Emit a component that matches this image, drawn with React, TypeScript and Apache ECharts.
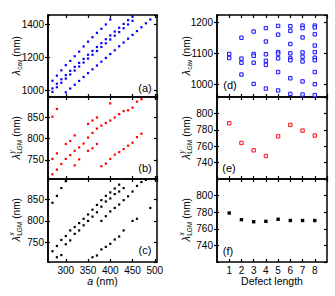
import React, { useEffect, useRef } from 'react';
import * as echarts from 'echarts';

// ---------- data ----------
// (a) cavity wavelength vs lattice constant a
const aX1 = [270, 280, 290, 300, 310, 320, 330, 340, 350, 360, 370, 380, 390, 400];
const aY1 = [1058, 1089, 1121, 1152, 1178, 1206, 1234, 1265, 1294, 1321, 1347, 1372, 1398, 1428];
const aX2 = [270, 280, 290, 300, 310, 320, 330, 340, 350, 360, 370, 380, 390, 400, 410, 420, 430, 440, 450];
const aY2 = [1012, 1040, 1067, 1092, 1118, 1142, 1166, 1190, 1215, 1238, 1262, 1285, 1309, 1332, 1355, 1378, 1401, 1424, 1446];
const aX3 = [270, 280, 290, 300, 310, 320, 330, 340, 350, 360, 370, 380, 390, 400, 410, 420, 430, 440, 450];
const aY3 = [991, 1019, 1046, 1071, 1096, 1120, 1144, 1168, 1192, 1215, 1238, 1262, 1284, 1307, 1330, 1352, 1375, 1398, 1420];
const aX4 = [300, 310, 320, 330, 340, 350, 360, 370, 380, 390, 400, 410, 420, 430, 440, 450, 460, 470, 480, 490];
const aY4 = [988, 1011, 1034, 1057, 1081, 1104, 1127, 1150, 1173, 1196, 1219, 1242, 1266, 1289, 1312, 1335, 1358, 1381, 1405, 1428];

// (b) lambda^y_LGM vs a
const bX1 = [270, 280];
const bY1 = [851, 869];
const bX2 = [270, 280, 300, 310, 320, 350, 360, 370, 400];
const bY2 = [752, 765, 787, 794, 807, 834, 842, 849, 882];
const bX3 = [270, 280, 290, 300, 310, 320, 330, 340, 350, 360, 370, 380, 390, 400, 410, 420, 430, 440, 450, 460, 470];
const bY3 = [716, 727, 740, 752, 761, 771, 779, 788, 802, 813, 823, 830, 836, 842, 849, 857, 864, 866, 872, 886, 892];
const bX4 = [320, 330, 350, 360, 370];
const bY4 = [737, 751, 771, 777, 787];
const bX5 = [380, 390, 400, 410, 420, 430, 440, 450, 460, 470];
const bY5 = [735, 741, 752, 762, 768, 775, 783, 790, 803, 811];

// (c) lambda^x_LGM vs a
const cX1 = [270, 280, 290, 300];
const cY1 = [842, 858, 876, 892];
const cX2 = [270, 280, 290, 300, 310, 320, 330, 340, 350, 360, 370, 380, 390, 400, 410, 420];
const cY2 = [730, 742, 756, 765, 778, 786, 795, 805, 815, 826, 837, 848, 858, 866, 875, 884];
const cX3 = [280, 290];
const cY3 = [716, 721];
const cX4 = [300, 310, 320, 330, 340, 350, 360, 370, 380, 390, 400, 410, 420, 430];
const cY4 = [746, 755, 770, 778, 790, 800, 810, 820, 833, 845, 852, 862, 868, 876];
const cX5 = [380, 390, 400, 410, 420, 430, 440, 450, 460, 470, 480];
const cY5 = [800, 811, 822, 830, 838, 848, 857, 868, 881, 890, 895];
const cX6 = [360, 370, 380, 390, 400, 410, 420, 430, 450, 460];
const cY6 = [716, 720, 734, 740, 747, 757, 764, 778, 800, 805];
const cX7 = [490];
const cY7 = [830];

// (d)-(f) vs defect length
const defectLengths = [1, 2, 3, 4, 5, 6, 7, 8];
const dCav = [
  [1098, 1085],
  [1150, 1083, 1070, 1032],
  [1170, 1098, 1092, 1070, 1002],
  [1181, 1138, 1097, 1076, 1063, 987],
  [1188, 1160, 1104, 1099, 1084, 1040, 981],
  [1187, 1172, 1130, 1100, 1084, 1078, 1020, 970],
  [1189, 1181, 1151, 1103, 1089, 1074, 1010, 968],
  [1189, 1183, 1161, 1125, 1104, 1086, 1078, 1040, 1001, 966],
];
const eLgmY = [788, 764, 755, 748, 772, 786, 779, 773];
const fLgmX = [779, 771, 768.5, 769, 771.5, 770, 770, 770];

const panelLetters = ['(a)', '(b)', '(c)', '(d)', '(e)', '(f)'];

// ---------- helpers ----------
const FONT = '"Liberation Sans", Arial, Helvetica, sans-serif';
const zip = (xs: number[], ys: number[]) => xs.map((x, i) => [x, ys[i]]);

type Panel = {
  left: number; top: number; width: number; height: number;
  x: [number, number]; xSplit: number; xInterval?: number;
  y: [number, number]; ySplit: number;
  bottom: boolean; xName?: any;
};

const panels: Panel[] = [
  { left: 48, top: 15, width: 109, height: 82, x: [260, 505], xSplit: 5, y: [960, 1455], ySplit: 3, bottom: false },
  { left: 48, top: 97, width: 109, height: 82, x: [260, 505], xSplit: 5, y: [705, 897], ySplit: 4, bottom: false },
  { left: 48, top: 179, width: 109, height: 83, x: [260, 505], xSplit: 5, y: [705, 897], ySplit: 4, bottom: true, xName: '{i|a} (nm)' },
  { left: 217, top: 15, width: 110, height: 82, x: [0, 9], xSplit: 9, xInterval: 1, y: [960, 1223], ySplit: 3, bottom: false },
  { left: 217, top: 97, width: 110, height: 82, x: [0, 9], xSplit: 9, xInterval: 1, y: [720, 820], ySplit: 5, bottom: false },
  { left: 217, top: 179, width: 110, height: 83, x: [0, 9], xSplit: 9, xInterval: 1, y: [720, 820], ySplit: 5, bottom: true, xName: 'Defect length' },
];

const letterPos = [
  [145, 88], [145, 168], [145, 250], [230, 85], [229, 168], [228, 251],
];

function yTitle(cx: number, cy: number, sup: string | null, sub: string) {
  const main = 10;
  const small = 6.5;
  const subW = sub === 'cav' ? 10.5 : 14.5;
  const total = 5.5 + subW + 2.5 + 20.6;
  const x0 = -total / 2;
  const children: any[] = [
    { type: 'text', x: x0, y: 0, style: { text: 'λ', fontSize: main + 1, fontStyle: 'italic', fontFamily: FONT, fill: '#000', align: 'left', verticalAlign: 'middle' } },
    { type: 'text', x: x0 + 5.8, y: 3, style: { text: sub, fontSize: small, fontFamily: FONT, fill: '#000', align: 'left', verticalAlign: 'middle' } },
    { type: 'text', x: x0 + 5.8 + subW + 2.5, y: 0, style: { text: '(nm)', fontSize: main, fontFamily: FONT, fill: '#000', align: 'left', verticalAlign: 'middle' } },
  ];
  if (sup) {
    children.push({ type: 'text', x: x0 + 6, y: -4.5, style: { text: sup, fontSize: small, fontStyle: 'italic', fontFamily: FONT, fill: '#000', align: 'left', verticalAlign: 'middle' } });
  }
  return { type: 'group', x: cx, y: cy, rotation: Math.PI / 2, children };
}

export default function App() {
  const ref = useRef<HTMLDivElement>(null);
  useEffect(() => {
    const chart = echarts.init(ref.current!, null, { renderer: 'svg' });
    const lineStyle = { color: '#000', width: 1.5 };
    const tickStyle = { color: '#000', width: 1.2 };
    const labelBase = { color: '#000', fontSize: 10, fontFamily: FONT, formatter: (v: number) => String(v), showMinLabel: false, showMaxLabel: false };

    const grid: any[] = [];
    const xAxis: any[] = [];
    const yAxis: any[] = [];
    panels.forEach((p, g) => {
      grid.push({ left: p.left, top: p.top, width: p.width, height: p.height });
      const xCommon: any = {
        type: 'value', gridIndex: g, min: p.x[0], max: p.x[1], splitNumber: p.xSplit,
        splitLine: { show: false }, axisLine: { show: true, onZero: false, lineStyle },
      };
      if (p.xInterval) xCommon.interval = p.xInterval;
      xAxis.push({
        ...xCommon, position: 'bottom',
        axisTick: { show: true, inside: true, length: 3, lineStyle: tickStyle },
        axisLabel: { ...labelBase, show: p.bottom, margin: 3 },
        name: p.xName || '', nameLocation: 'middle', nameGap: 13,
        nameTextStyle: { color: '#000', fontSize: 10.5, fontFamily: FONT, rich: { i: { fontStyle: 'italic', fontSize: 10.5, fontFamily: FONT, color: '#000' } } },
      });
      xAxis.push({
        ...xCommon, position: 'top',
        axisTick: { show: true, inside: true, length: 3, lineStyle: tickStyle },
        axisLabel: { show: false },
      });
      const yCommon: any = {
        type: 'value', gridIndex: g, min: p.y[0], max: p.y[1], splitNumber: p.ySplit,
        splitLine: { show: false }, axisLine: { show: true, onZero: false, lineStyle },
      };
      yAxis.push({
        ...yCommon, position: 'left',
        axisTick: { show: true, inside: false, length: 3, lineStyle: tickStyle },
        axisLabel: { ...labelBase, show: true, margin: 4 },
      });
      yAxis.push({
        ...yCommon, position: 'left',
        axisTick: { show: true, inside: true, length: 2, lineStyle: tickStyle },
        axisLabel: { show: false },
      });
      yAxis.push({
        ...yCommon, position: 'right',
        axisTick: { show: true, inside: true, length: 3, lineStyle: tickStyle },
        axisLabel: { show: false },
      });
    });

    const series: any[] = [];
    const addDots = (g: number, data: number[][], color: string, size: number, hollow = false) => {
      series.push({
        type: 'scatter', xAxisIndex: 2 * g, yAxisIndex: 3 * g, data,
        symbol: 'rect', symbolSize: size, silent: true,
        itemStyle: hollow ? { color: '#e8e8ff', borderColor: color, borderWidth: 0.9, opacity: 1 } : { color, opacity: 1 },
      });
    };
    const blue = '#0000ff';
    const red = '#ff0000';
    [[aX1, aY1], [aX2, aY2], [aX3, aY3], [aX4, aY4]].forEach(([xs, ys]) => addDots(0, zip(xs, ys), blue, 2.2));
    [[bX1, bY1], [bX2, bY2], [bX3, bY3], [bX4, bY4], [bX5, bY5]].forEach(([xs, ys]) => addDots(1, zip(xs, ys), red, 2.2));
    [[cX1, cY1], [cX2, cY2], [cX3, cY3], [cX4, cY4], [cX5, cY5], [cX6, cY6], [cX7, cY7]].forEach(([xs, ys]) => addDots(2, zip(xs, ys), '#000', 2.2));
    const dData: number[][] = [];
    defectLengths.forEach((len, i) => dCav[i].forEach((v) => dData.push([len, v])));
    addDots(3, dData, blue, 3.4, true);
    addDots(4, zip(defectLengths, eLgmY), red, 3.4, true);
    addDots(5, zip(defectLengths, fLgmX), '#000', 3.4);

    const graphic: any[] = [
      yTitle(16, 56, null, 'cav'),
      yTitle(16, 138, 'y', 'LGM'),
      yTitle(16, 220, 'x', 'LGM'),
      yTitle(186, 56, null, 'cav'),
      yTitle(186, 138, 'y', 'LGM'),
      yTitle(186, 220, 'x', 'LGM'),
    ];
    panelLetters.forEach((t, i) => {
      graphic.push({
        type: 'text', x: letterPos[i][0], y: letterPos[i][1],
        style: { text: t, fontSize: 11, fontFamily: FONT, fill: '#000', align: 'center', verticalAlign: 'middle' },
      });
    });

    chart.setOption({
      animation: false,
      backgroundColor: '#fff',
      grid, xAxis, yAxis, series, graphic,
    });
    return () => chart.dispose();
  }, []);
  return <div ref={ref} style={{ position: 'fixed', left: 0, top: 0, width: 335, height: 296 }} />;
}
